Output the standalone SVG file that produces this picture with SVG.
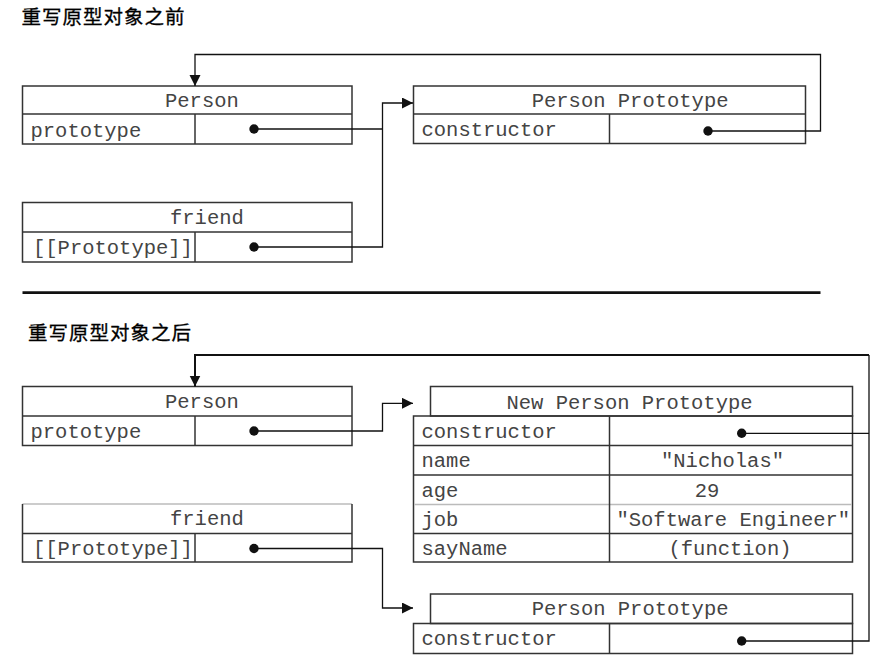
<svg xmlns="http://www.w3.org/2000/svg" width="896" height="669" viewBox="0 0 896 669">
<defs>
<style>
.box{fill:none;stroke:#333;stroke-width:1.5}
.gray{stroke:#bbb}
.t{font-family:"Liberation Mono","DejaVu Sans Mono",monospace;font-size:20.5px;fill:#444}
.m{text-anchor:middle}
.title{font-family:"Noto Sans CJK SC","Noto Sans",sans-serif;font-size:19.5px;letter-spacing:1px;fill:#000;stroke:#000;stroke-width:0.3}
.c{fill:none;stroke:#111;stroke-width:1.3}
.thick{stroke-width:2}
.dot{fill:#111}
</style>
<marker id="arr" markerUnits="userSpaceOnUse" markerWidth="12" markerHeight="12" refX="11" refY="5.5" orient="auto">
<path d="M0,0 L11,5.5 L0,11 Z" fill="#111"/>
</marker>
</defs>
<rect width="896" height="669" fill="#fff"/>

<text class="title" x="21.5" y="24">重写原型对象之前</text>
<line x1="22.5" y1="292.7" x2="820.5" y2="292.7" stroke="#111" stroke-width="2.7"/>
<text class="title" x="28" y="340">重写原型对象之后</text>

<g id="person1">
<rect class="box" x="22.5" y="86" width="329.5" height="58"/>
<line class="box" x1="22.5" y1="114" x2="352" y2="114"/>
<line class="box" x1="195" y1="114" x2="195" y2="144"/>
<text class="t" x="165" y="107">Person</text>
<text class="t" x="30.5" y="136.5">prototype</text>
</g>

<g id="friend1">
<rect class="box" x="22.5" y="202.5" width="329.5" height="59.5"/>
<line class="box" x1="22.5" y1="232" x2="352" y2="232"/>
<line class="box" x1="195" y1="232" x2="195" y2="262"/>
<text class="t" x="170" y="224">friend</text>
<text class="t" x="33" y="253.5">[[Prototype]]</text>
</g>

<g id="proto1">
<rect class="box" x="413.5" y="86" width="392" height="57.5"/>
<line class="box" x1="413.5" y1="114" x2="805.5" y2="114"/>
<line class="box" x1="609.5" y1="114" x2="609.5" y2="143.5"/>
<text class="t" x="531.7" y="106.7">Person Prototype</text>
<text class="t" x="421.5" y="136">constructor</text>
</g>

<g id="person2">
<rect class="box" x="22.5" y="386.5" width="329.5" height="59"/>
<line class="box" x1="22.5" y1="416" x2="352" y2="416"/>
<line class="box" x1="195" y1="416" x2="195" y2="445.5"/>
<text class="t" x="165" y="408">Person</text>
<text class="t" x="30.5" y="437.5">prototype</text>
</g>

<g id="friend2">
<line class="box gray" x1="22.5" y1="504" x2="352" y2="504"/>
<path class="box" d="M22.5,504 V562 H352 V504"/>
<line class="box" x1="22.5" y1="533.5" x2="352" y2="533.5"/>
<line class="box" x1="195" y1="533.5" x2="195" y2="562"/>
<text class="t" x="170" y="525">friend</text>
<text class="t" x="33" y="555">[[Prototype]]</text>
</g>

<g id="newproto">
<rect class="box" x="430.5" y="386.5" width="422" height="29.5"/>
<rect class="box" x="413.5" y="416" width="439" height="146"/>
<line class="box" x1="413.5" y1="445.5" x2="852.5" y2="445.5"/>
<line class="box" x1="413.5" y1="475" x2="852.5" y2="475"/>
<line class="box gray" x1="414.5" y1="504.5" x2="851.5" y2="504.5" stroke-width="2.5"/>
<line class="box" x1="413.5" y1="533.5" x2="852.5" y2="533.5"/>
<line class="box" x1="609.5" y1="416" x2="609.5" y2="562"/>
<text class="t" x="506.5" y="408.5">New Person Prototype</text>
<text class="t" x="421.5" y="437.5">constructor</text>
<text class="t" x="421.5" y="467">name</text>
<text class="t m" x="722.5" y="467">"Nicholas"</text>
<text class="t" x="421.5" y="496.5">age</text>
<text class="t m" x="707" y="496.5">29</text>
<text class="t" x="421.5" y="526">job</text>
<text class="t m" x="733.3" y="526">"Software Engineer"</text>
<text class="t" x="421.5" y="555">sayName</text>
<text class="t m" x="730" y="555">(function)</text>
</g>

<g id="proto2">
<rect class="box" x="430.5" y="594" width="422" height="29.5"/>
<rect class="box" x="413.5" y="623.5" width="439" height="30"/>
<line class="box" x1="609.5" y1="623.5" x2="609.5" y2="653.5"/>
<text class="t" x="531.7" y="615">Person Prototype</text>
<text class="t" x="421.5" y="645">constructor</text>
</g>

<g id="connectors">
<circle class="dot" cx="254" cy="129" r="4.7"/>
<path class="c" d="M254,129 H382.5"/>
<circle class="dot" cx="254" cy="247" r="4.7"/>
<path class="c" d="M254,247 H382.5 V103 H413" marker-end="url(#arr)"/>
<circle class="dot" cx="708" cy="131" r="4.7"/>
<path class="c" d="M708,131 H820.5 V54.5 H195 V86" marker-end="url(#arr)"/>

<circle class="dot" cx="254" cy="431" r="4.7"/>
<path class="c" d="M254,431 H382.5 V403.3 H413" marker-end="url(#arr)"/>
<circle class="dot" cx="254" cy="548.5" r="4.7"/>
<path class="c" d="M254,548.5 H382.5 V608 H413" marker-end="url(#arr)"/>
<circle class="dot" cx="741.7" cy="433.3" r="4.7"/>
<path class="c" d="M741.7,433.3 H869"/>
<circle class="dot" cx="741.7" cy="641" r="4.7"/>
<path class="c" d="M741.7,641 H869 V355"/>
<path class="c thick" d="M869,355 H195 V386.5" marker-end="url(#arr)"/>
</g>
</svg>
